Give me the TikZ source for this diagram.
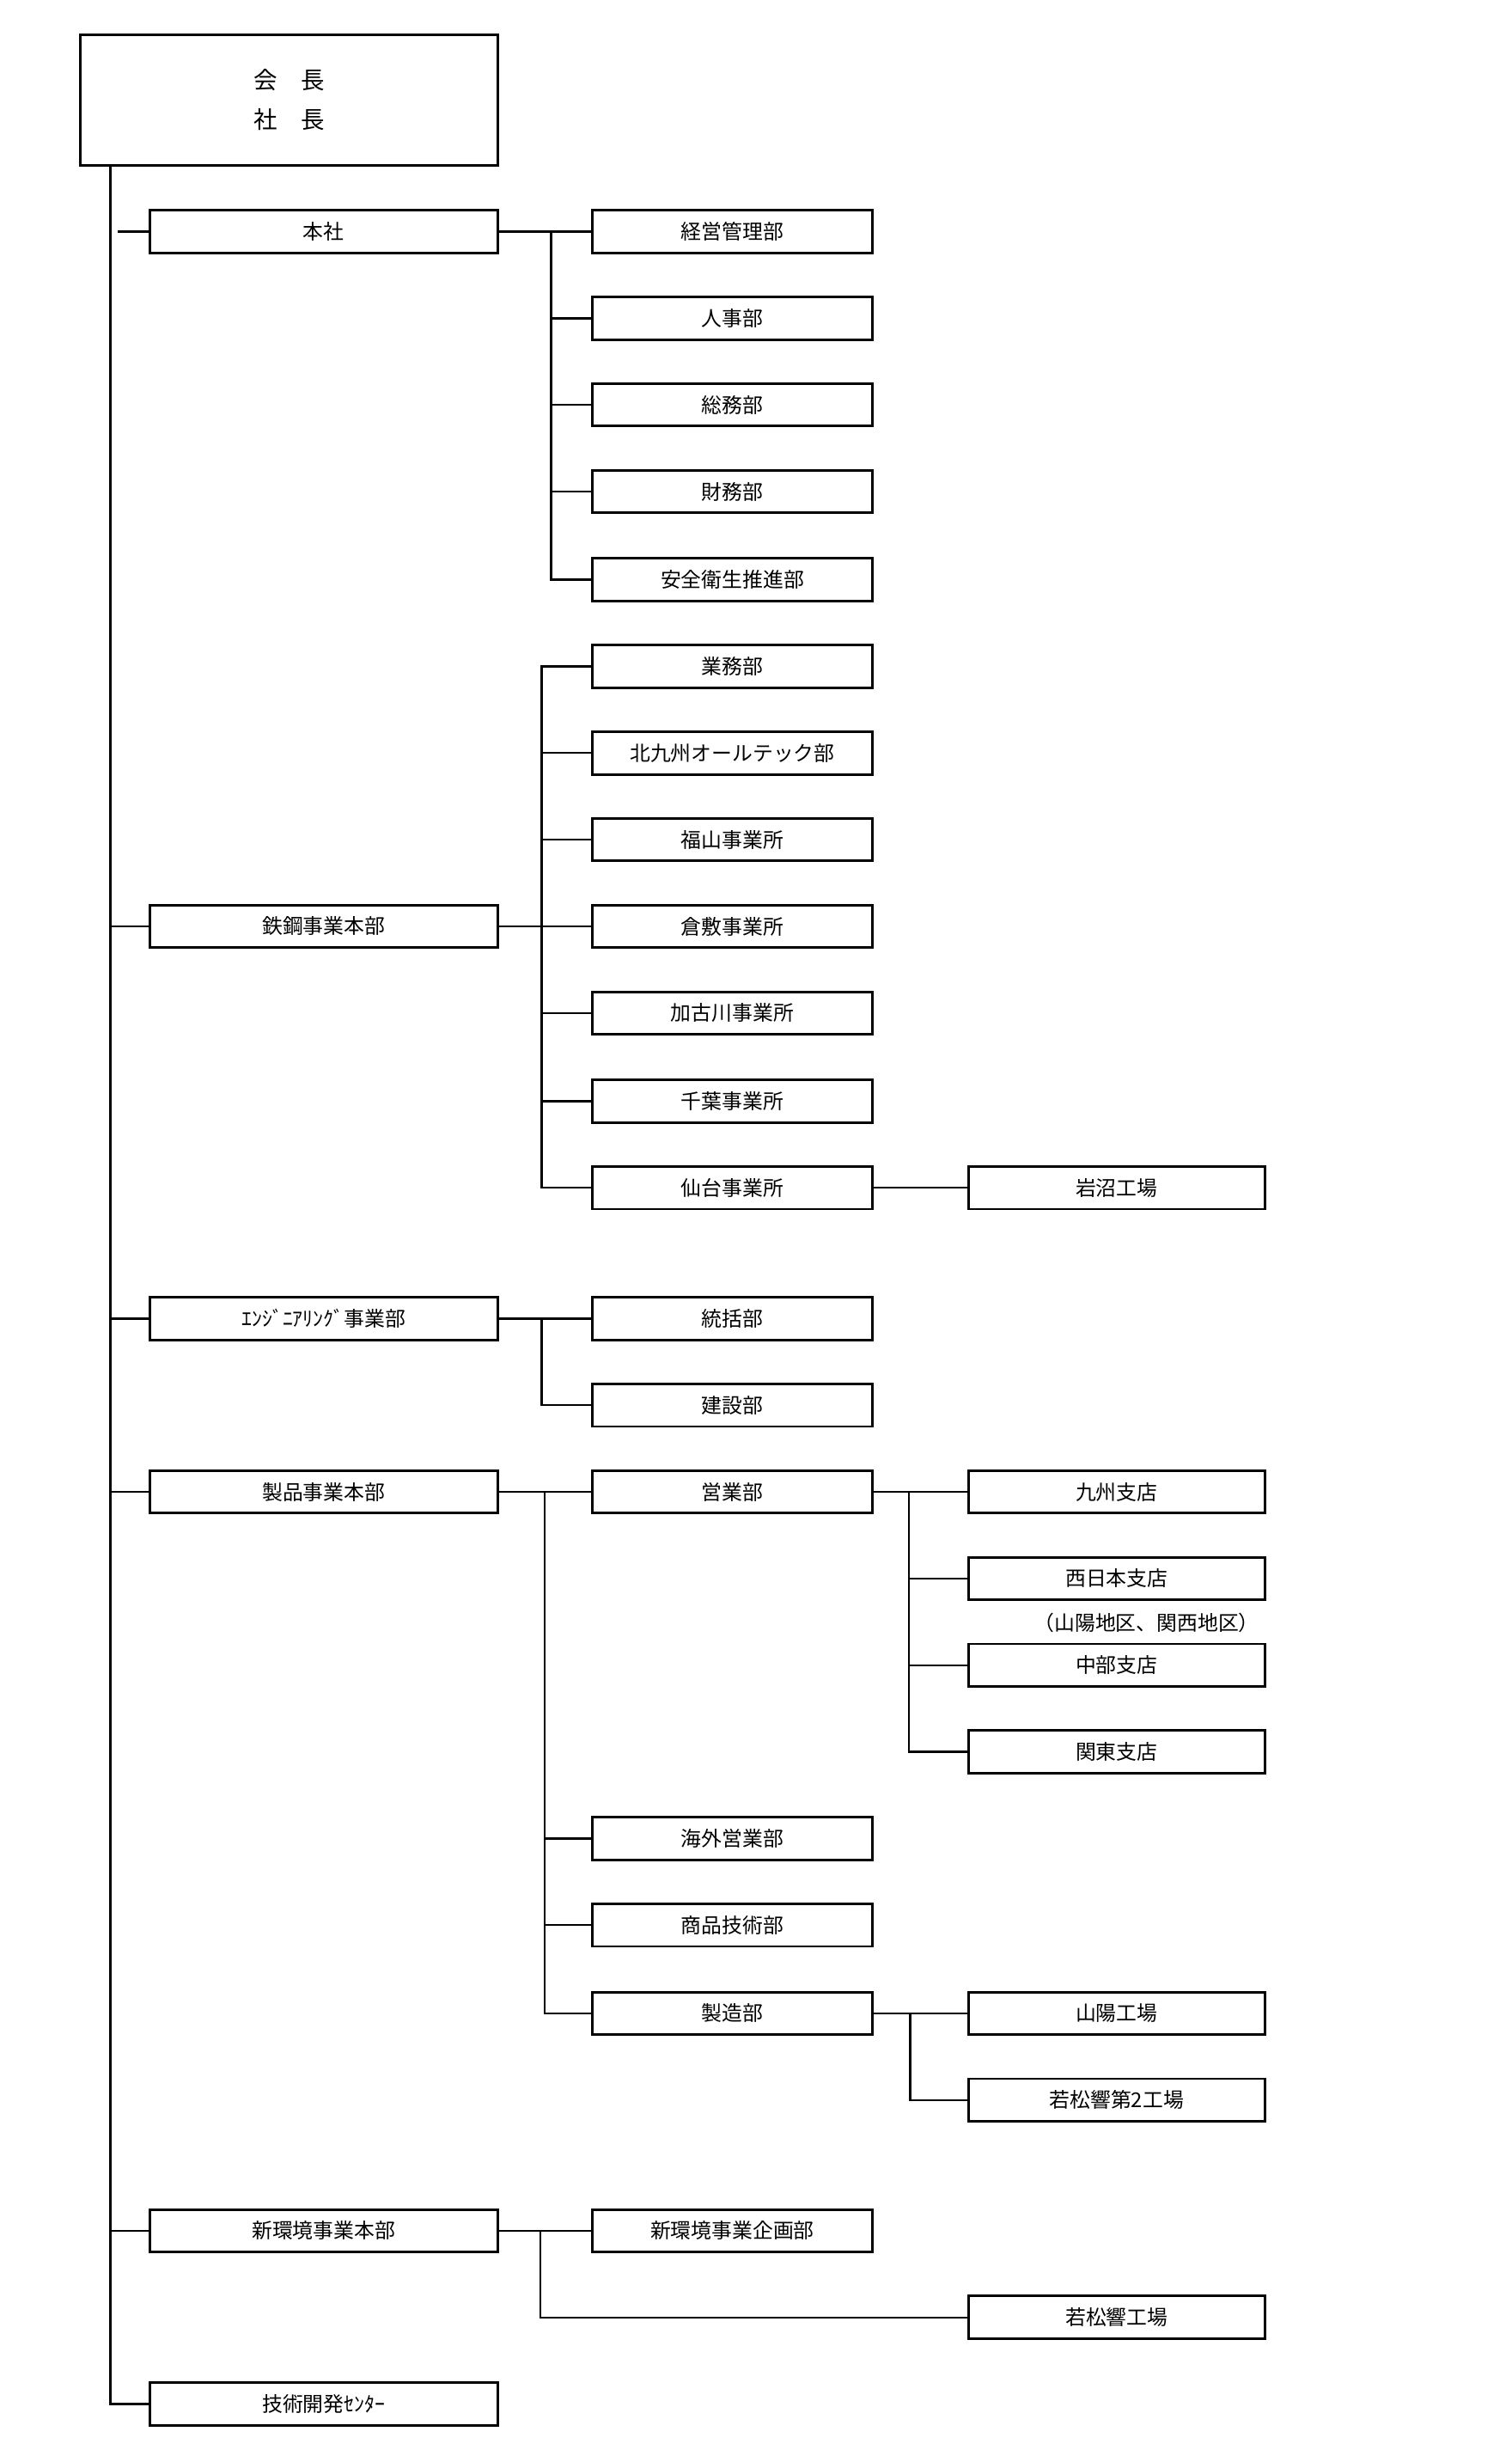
\documentclass[tikz,border=0pt]{standalone}
\usepackage{fontspec}
\setmainfont{Noto Sans CJK JP}
\begin{document}
\begin{tikzpicture}[x=1pt,y=-1pt,line width=1.3pt,
  lbox/.style={draw,line width=1.6pt,minimum width=221pt,minimum height=27pt,inner sep=0pt,font=\fontsize{13}{14}\selectfont},
  mbox/.style={draw,line width=1.6pt,minimum width=178pt,minimum height=27pt,inner sep=0pt,font=\fontsize{13}{14}\selectfont},
  rbox/.style={draw,line width=1.6pt,minimum width=188pt,minimum height=27pt,inner sep=0pt,font=\fontsize{13}{14}\selectfont}]
\useasboundingbox (0,0) rectangle (960,1559);
\node[draw,line width=1.6pt,minimum width=265pt,minimum height=83pt,align=center,font=\fontsize{15}{25}\selectfont] (top) at (183.5,63.5) {会\quad 長\\社\quad 長};
% left column
\node[lbox] (honsha) at (205.5,147) {本社};
\node[lbox] (tekko) at (205.5,588) {鉄鋼事業本部};
\node[lbox] (eng) at (205.5,837) {ｴﾝｼﾞﾆｱﾘﾝｸﾞ事業部};
\node[lbox] (seihin) at (205.5,947) {製品事業本部};
\node[lbox] (shinkan) at (205.5,1416) {新環境事業本部};
\node[lbox] (gijutsu) at (205.5,1526) {技術開発ｾﾝﾀｰ};
% middle column
\node[mbox] (m1) at (465,147) {経営管理部};
\node[mbox] (m2) at (465,202) {人事部};
\node[mbox] (m3) at (465,257) {総務部};
\node[mbox] (m4) at (465,312) {財務部};
\node[mbox] (m5) at (465,368) {安全衛生推進部};
\node[mbox] (t1) at (465,423) {業務部};
\node[mbox] (t2) at (465,478) {北九州オールテック部};
\node[mbox] (t3) at (465,533) {福山事業所};
\node[mbox] (t4) at (465,588) {倉敷事業所};
\node[mbox] (t5) at (465,643) {加古川事業所};
\node[mbox] (t6) at (465,699) {千葉事業所};
\node[mbox] (t7) at (465,754) {仙台事業所};
\node[mbox] (e1) at (465,837) {統括部};
\node[mbox] (e2) at (465,892) {建設部};
\node[mbox] (s1) at (465,947) {営業部};
\node[mbox] (s2) at (465,1167) {海外営業部};
\node[mbox] (s3) at (465,1222) {商品技術部};
\node[mbox] (s4) at (465,1278) {製造部};
\node[mbox] (n1) at (465,1416) {新環境事業企画部};
% right column
\node[rbox] (iwanuma) at (709,754) {岩沼工場};
\node[rbox] (r1) at (709,947) {九州支店};
\node[rbox] (r2) at (709,1002) {西日本支店};
\node[font=\fontsize{13}{14}\selectfont] (r2note) at (728,1030) {（山陽地区、関西地区）};
\node[rbox] (r3) at (709,1057) {中部支店};
\node[rbox] (r4) at (709,1112) {関東支店};
\node[rbox] (f1) at (709,1278) {山陽工場};
\node[rbox] (f2) at (709,1333) {若松響第2工場};
\node[rbox] (n2) at (709,1471) {若松響工場};
% main trunk
\coordinate (trunkEnd) at (70,1527);
\draw (top.south -| 70,0) -- (trunkEnd);
\foreach \n in {tekko,eng,seihin,shinkan,gijutsu} \draw (70,0 |- \n.west) -- (\n.west);
\draw (75,0 |- honsha.west) -- (honsha.west);
% honsha
\coordinate (b1) at (350,147);
\draw (honsha.east) -- (m1.west);
\foreach \n in {m2,m3,m4,m5} \draw (b1) |- (\n.west);
% tekko
\coordinate (b2) at (344,588);
\draw (tekko.east) -- (t4.west);
\foreach \n in {t1,t2,t3,t5,t6,t7} \draw (b2) |- (\n.west);
\draw (t7.east) -- (iwanuma.west);
% eng
\coordinate (b3) at (344,837);
\draw (eng.east) -- (e1.west);
\draw (b3) |- (e2.west);
% seihin
\coordinate (b4) at (346,947);
\draw (seihin.east) -- (s1.west);
\foreach \n in {s2,s3,s4} \draw (b4) |- (\n.west);
\coordinate (b5) at (577,947);
\draw (s1.east) -- (r1.west);
\foreach \n in {r2,r3,r4} \draw (b5) |- (\n.west);
\coordinate (b6) at (578,1278);
\draw (s4.east) -- (f1.west);
\draw (b6) |- (f2.west);
% shinkan
\coordinate (b7) at (343,1416);
\draw (shinkan.east) -- (n1.west);
\draw (b7) |- (n2.west);
\end{tikzpicture}
\end{document}
